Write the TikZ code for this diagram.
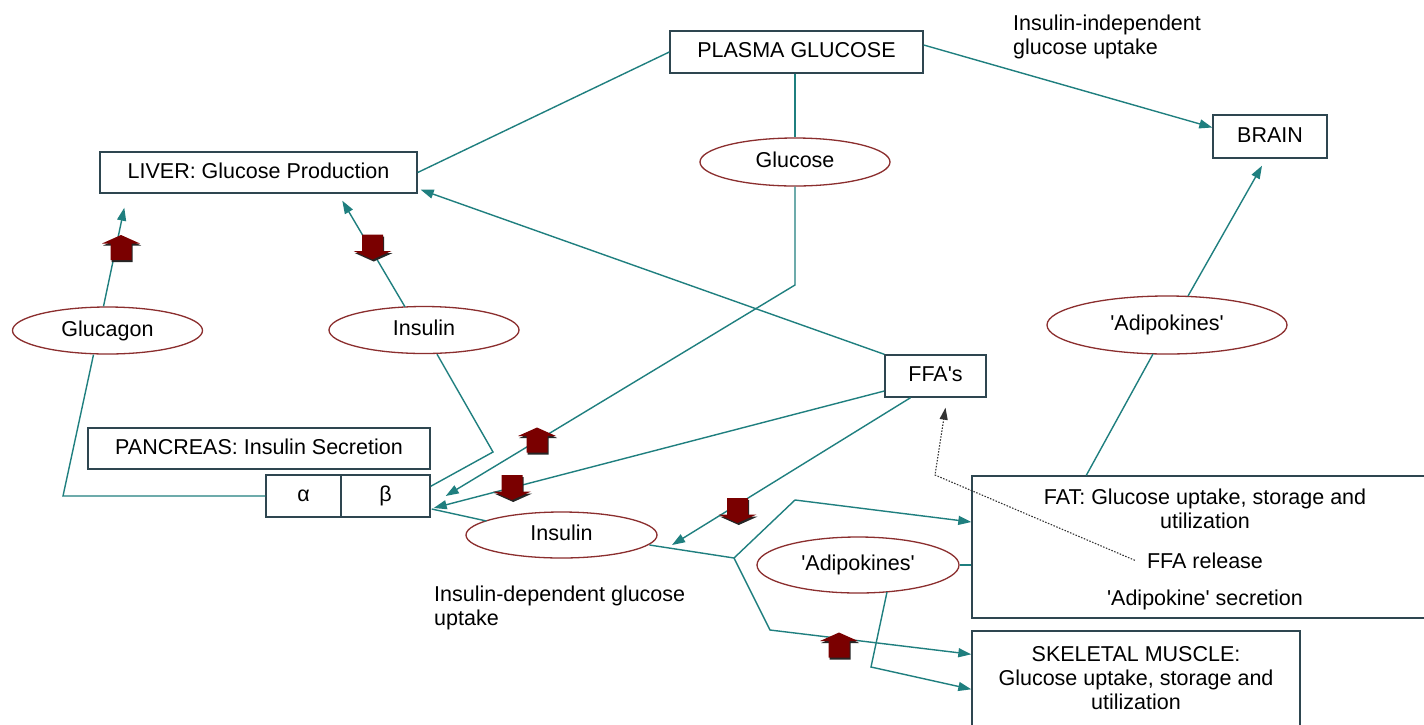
\documentclass[tikz,border=0pt]{standalone}
\usepackage{fontspec}
\setmainfont{Liberation Sans}
\usetikzlibrary{arrows.meta,shapes.geometric,calc}

\definecolor{wireteal}{HTML}{1F7F7F}
\definecolor{frame}{HTML}{2E4650}
\definecolor{ring}{HTML}{8B2E2E}
\definecolor{brick}{HTML}{7A0000}

\tikzset{
  every node/.style={font=\fontsize{21.5}{24}\selectfont, text=black},
  box/.style={draw=frame, line width=1.4pt, fill=white, inner sep=0pt,
              text height=15.5pt, text depth=4.5pt},
  oval/.style={ellipse, draw=ring, line width=1.3pt, fill=white, inner sep=0pt,
               text height=15.5pt, text depth=4.5pt},
  caption/.style={inner sep=0pt},
  wire/.style={draw=wireteal, line width=1.4pt},
  flow/.style={wire, -{Triangle[length=13pt,width=9pt]}},
  release/.style={draw=black!80, line width=1.1pt, dash pattern=on 1.5pt off 1.5pt,
                  -{Triangle[length=12pt,width=8pt]}},
  % thick red block arrows marking a rise or a fall
  blockup/.pic={
    \begin{scope}[shift={(1.2,2)}]
      \fill[black!85] (0,-12.5) -- (19,-4) -- (10.5,-4) -- (10.5,12.5)
        -- (-10.5,12.5) -- (-10.5,-4) -- (-19,-4) -- cycle;
    \end{scope}
    \fill[brick] (0,-12.5) -- (19,-4) -- (10.5,-4) -- (10.5,12.5)
      -- (-10.5,12.5) -- (-10.5,-4) -- (-19,-4) -- cycle;
  },
  blockdown/.pic={
    \begin{scope}[shift={(1.2,2)}]
      \fill[black!85] (0,12.5) -- (19,4) -- (10.5,4) -- (10.5,-12.5)
        -- (-10.5,-12.5) -- (-10.5,4) -- (-19,4) -- cycle;
    \end{scope}
    \fill[brick] (0,12.5) -- (19,4) -- (10.5,4) -- (10.5,-12.5)
      -- (-10.5,-12.5) -- (-10.5,4) -- (-19,4) -- cycle;
  },
}

\begin{document}
\begin{tikzpicture}[x=1pt, y=-1pt]
\useasboundingbox (0,0) rectangle (1424,724);
\fill[white] (0,0) rectangle (1424,724);
\clip (0,0) rectangle (1424,724);

% ---- organs and compartments
\node[box, minimum width=253pt, minimum height=42pt] (plasma) at (796.5,52) {PLASMA GLUCOSE};
\node[box, minimum width=114pt, minimum height=43pt] (brain) at (1270,136.5) {BRAIN};
\node[box, minimum width=317pt, minimum height=41pt] (liver) at (258.5,172.5) {LIVER: Glucose Production};
\node[box, minimum width=342pt, minimum height=41pt] (pancreas) at (259,448.5) {PANCREAS: Insulin Secretion};
\node[box, minimum width=75pt, minimum height=42pt] (alpha) at (303.5,496) {α};
\node[box, minimum width=89pt, minimum height=42pt] (beta) at (385.5,496) {β};
\node[box, minimum width=101pt, minimum height=42pt] (ffa) at (935.5,376) {FFA\textquotesingle s};
\node[box, minimum width=470pt, minimum height=142pt] (fat) at (1207,547) {};
\node[box, minimum width=328pt, minimum height=110pt] (muscle) at (1136,686) {};

% ---- signals
\node[oval, minimum width=190pt, minimum height=47pt] (glucagon) at (107.5,330.5) {Glucagon};
\node[oval, minimum width=190pt, minimum height=47pt] (insA) at (424,330) {Insulin};
\node[oval, minimum width=190pt, minimum height=48pt] (glucose) at (795,162) {Glucose};
\node[oval, minimum width=191pt, minimum height=46pt] (insB) at (561.5,535) {Insulin};
\node[oval, minimum width=240pt, minimum height=58pt] (adipoA) at (1167,325) {\textquotesingle Adipokines\textquotesingle};
\node[oval, minimum width=202pt, minimum height=56pt] (adipoB) at (858,565) {\textquotesingle Adipokines\textquotesingle};

% ---- free text
\node[caption, align=left, anchor=north west] (indep) at (1013,14.3) {Insulin-independent\\glucose uptake};
\node[caption, align=left, anchor=north west] (dep) at (434,586) {Insulin-dependent glucose\\uptake};
\node[caption, align=center, anchor=north] (fattitle) at (1205,489) {FAT: Glucose uptake, storage and\\utilization};
\node[caption, anchor=base] (ffarel) at (1205,568) {FFA release};
\node[caption, anchor=base] (adiposec) at (1205,605) {\textquotesingle Adipokine\textquotesingle{} secretion};
\node[caption, align=center, anchor=north] (musctext) at (1136,646.5) {SKELETAL MUSCLE:\\Glucose uptake, storage and\\utilization};

% ---- bend points
\coordinate (gbend) at (795,285);
\coordinate (gcorner) at (63,496);
\coordinate (ibend) at (493,452);
\coordinate (ffatip) at (672,545);
\coordinate (jn) at (734,558);
\coordinate (jup) at (795,500);
\coordinate (jdown) at (770,630);
\coordinate (abend) at (871,667);
\coordinate (dcorner) at (935,475);

% ---- plasma glucose
\draw[wire] (plasma.west) -- (liver.east);
\draw[flow] ([yshift=7pt]plasma.east) -- ([yshift=9pt]brain.west);
\draw[wire] (glucose.north |- plasma.south) -- (glucose.north);
\draw[flow] (glucose.south) -- (gbend) -- ([xshift=15pt]beta.east);

% ---- free fatty acids
\draw[flow] (ffa.north west) -- ([xshift=3pt,yshift=4pt]liver.south east);
\draw[flow] ([yshift=-15pt]ffa.west) -- ([xshift=3pt,yshift=-12pt]beta.east);
\draw[flow] ([xshift=-25pt]ffa.south) -- (ffatip);

% ---- pancreatic hormones
\draw[flow] ($(glucagon.north)+(-4,0)$) -- ($(liver.south west)+(25,14)$);
\draw[wire] (alpha.west) -- (gcorner) -- ($(glucagon.south)+(-14,0)$);
\draw[flow] ($(insA.north)+(-19,1)$) -- ($(liver.south west)+(243,7)$);
\draw[wire] ($(insA.south)+(13,0)$) -- (ibend) -- ([yshift=-12pt]beta.north east);
\draw[wire] ($(insB.center)+(-75,-14)$) -- ([xshift=1pt,yshift=-13pt]beta.east);

% ---- insulin-dependent uptake
\draw[wire] ($(insB.center)+(88,10)$) -- (jn);
\draw[flow] (jn) -- (jup) -- ([yshift=25pt]fat.west);
\draw[flow] (jn) -- (jdown) -- ([yshift=-24pt]muscle.north west);

% ---- adipokines
\draw[wire] (adipoB.east) -- (adipoB.east -| fat.west);
\draw[flow] ($(adipoB.center)+(29,27)$) -- (abend) -- ([yshift=-59pt]muscle.north west);
\draw[wire] ($(fat.north west)+(115,0)$) -- ($(adipoA.center)+(-14,29)$);
\draw[flow] ($(adipoA.center)+(21,-29)$) -- ([xshift=-8pt,yshift=-7pt]brain.south);

% ---- FFA release from fat
\draw[release] ([xshift=-12pt]ffarel.west) -- (dcorner) -- ([xshift=10pt,yshift=-10pt]ffa.south);

% ---- rises and falls
\pic at (121,247.5) {blockup};
\pic at (372.5,247) {blockdown};
\pic at (537,440) {blockup};
\pic at (512,487.5) {blockdown};
\pic at (737.5,510.5) {blockdown};
\pic at (839,645) {blockup};
\end{tikzpicture}
\end{document}
